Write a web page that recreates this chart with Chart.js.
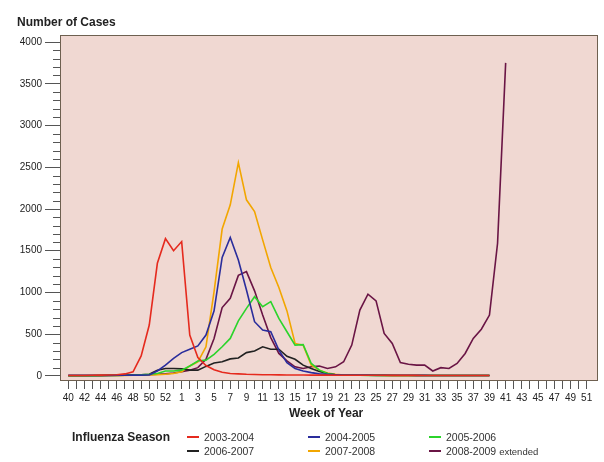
<!DOCTYPE html>
<html>
<head>
<meta charset="utf-8">
<script src="https://cdn.jsdelivr.net/npm/chart.js@4/dist/chart.umd.min.js"></script>
<style>
body{margin:0;background:#fff;font-family:"Liberation Sans",Arial,sans-serif;}
#wrap{position:relative;width:604px;height:462px;overflow:hidden;}
canvas{position:absolute;left:0;top:0;}
.txt{position:absolute;color:#222;white-space:nowrap;line-height:14px;}
.b{font-weight:bold;font-size:12px;}
.leg{font-size:10.5px;color:#333;}
.sw{position:absolute;width:12px;height:2px;}
</style>
</head>
<body>
<div id="wrap">
<canvas id="graf" width="604" height="462"></canvas>
<div class="txt b" style="left:17px;top:15px">Number of Cases</div>
<div class="txt b" style="left:289px;top:406px">Week of Year</div>
<div class="txt b" style="left:72px;top:430px">Influenza Season</div>
<div id="legenda"></div>
</div>
<script>
// tjedni na x osi (40..53 pa 1..51)
var tjedni=[40,41,42,43,44,45,46,47,48,49,50,51,52,53,
 1,2,3,4,5,6,7,8,9,10,11,12,13,14,15,16,17,18,19,20,21,22,23,24,25,26,
 27,28,29,30,31,32,33,34,35,36,37,38,39,40,41,42,43,44,45,46,47,48,49,50,51];
var yOznake=[0,500,1000,1500,2000,2500,3000,3500,4000];

var s2003=[5,5,5,8,10,12,15,25,50,240,610,1350,1645,1500,1610,490,220,125,75,45,
 30,25,20,18,15,14,13,12,12,11,10,10,10,9,9,9,8,8,8,8,7,7,7,7,6,6,6,6,5,5,5,5,5];
var s2004=[5,5,5,5,5,5,8,8,10,10,12,60,130,210,280,320,360,490,780,1420,
 1660,1390,1030,650,550,530,310,160,90,60,40,25,20,15,12,10,10,10,9,9,8,8,8,7,7,6,6,6,5,5,5,5,5];
var s2005=[3,3,3,3,5,5,5,8,10,15,20,30,60,60,70,120,180,190,260,350,
 450,660,810,950,830,890,690,530,370,375,150,70,30,15,10,8,8,7,7,6,6,6,5,5,5,5,5,5,5,5,5,5,5];
var s2006=[5,5,5,5,5,8,8,10,12,15,20,70,90,90,85,70,70,115,155,170,
 205,215,280,300,350,320,320,235,200,130,90,55,30,15,10,9,8,8,7,7,6,6,6,5,5,5,5,5,5,5,5,5,5];
var s2007=[3,3,3,3,3,5,5,5,8,10,12,15,20,30,50,120,170,350,1010,1760,
 2050,2555,2110,1970,1630,1300,1060,780,390,370,130,70,35,20,12,10,9,8,8,7,7,6,6,6,5,5,5,5,5,5,5,5,5];
var s2008=[5,5,5,5,5,5,5,8,10,12,15,20,25,35,50,70,100,200,450,820,
 930,1205,1250,1020,730,460,270,180,110,90,110,120,90,110,170,370,790,980,900,510,
 390,160,140,130,130,60,100,90,150,270,450,560,730,1590,3750];

var nazivi=['2003-2004','2004-2005','2005-2006','2006-2007','2007-2008','2008-2009'];
var boje=['#e52a1e','#2a2d9c','#2bd42b','#222222','#f2a600','#6a1545'];
var serije=[s2003,s2004,s2005,s2006,s2007,s2008];

function tocke(niz){
    var out=[];
    for(var i=0;i<niz.length;i++){ out.push({x:i,y:niz[i]}); }
    return out;
}

var okvir={
    id:'okvir',
    beforeDraw:function(chart){
        var a=chart.chartArea, c=chart.ctx;
        c.save();
        c.fillStyle='#f0d8d2';
        c.fillRect(a.left,a.top,a.right-a.left,a.bottom-a.top);
        c.restore();
    },
    afterDraw:function(chart){
        var a=chart.chartArea, c=chart.ctx, y=chart.scales.y;
        c.save();
        c.strokeStyle='#555';
        c.lineWidth=1;
        c.beginPath();
        for(var v=100;v<4000;v+=100){
            if(v%500===0) continue;
            var py=Math.round(y.getPixelForValue(v))+0.5;
            c.moveTo(a.left-7,py);
            c.lineTo(a.left,py);
        }
        c.stroke();
        c.strokeStyle='#6e6050';
        c.strokeRect(a.left+0.5,a.top+0.5,a.right-a.left-1,a.bottom-a.top-1);
        c.restore();
    }
};

var skupovi=[];
for(var k=0;k<serije.length;k++){
    skupovi.push({
        label:nazivi[k],
        data:tocke(serije[k]),
        borderColor:boje[k],
        borderWidth:1.6,
        pointRadius:0,
        fill:false,
        tension:0
    });
}

var graf=new Chart(document.getElementById('graf'),{
    type:'line',
    data:{datasets:skupovi},
    plugins:[okvir],
    options:{
        responsive:false,
        animation:false,
        layout:{padding:{top:35,right:6,left:0,bottom:0}},
        plugins:{legend:{display:false},tooltip:{enabled:false}},
        scales:{
            x:{
                type:'linear',
                min:-1.02,
                max:65.4,
                afterBuildTicks:function(s){
                    s.ticks=tjedni.map(function(t,i){return {value:i};});
                },
                afterFit:function(s){ s.height=81; },
                grid:{drawOnChartArea:false,tickLength:8,color:'#555'},
                border:{display:false},
                ticks:{
                    autoSkip:false,maxRotation:0,minRotation:0,padding:3,
                    color:'#222',font:{family:'Liberation Sans',size:10},
                    callback:function(v){ return v%2===0 ? String(tjedni[v]) : ''; }
                }
            },
            y:{
                min:-60,
                max:4084,
                afterBuildTicks:function(s){
                    s.ticks=yOznake.map(function(v){return {value:v};});
                },
                afterFit:function(s){ s.width=60; },
                grid:{drawOnChartArea:false,tickLength:15,color:'#555'},
                border:{display:false},
                ticks:{
                    padding:3,color:'#222',font:{family:'Liberation Sans',size:10},
                    callback:function(v){ return String(v); }
                }
            }
        }
    }
});

// legenda
var stupci=[187,308,429], redovi=[437,451];
var html='';
for(var j=0;j<nazivi.length;j++){
    var lx=stupci[j%3], ly=redovi[Math.floor(j/3)];
    html+='<div class="sw" style="left:'+lx+'px;top:'+(ly-1)+'px;background:'+boje[j]+'"></div>';
    var tekst=nazivi[j]+(j===5?' <span style="font-size:9.5px">extended</span>':'');
    html+='<div class="txt leg" style="left:'+(lx+17)+'px;top:'+(ly-7)+'px">'+tekst+'</div>';
}
document.getElementById('legenda').innerHTML=html;
</script>
</body>
</html>
